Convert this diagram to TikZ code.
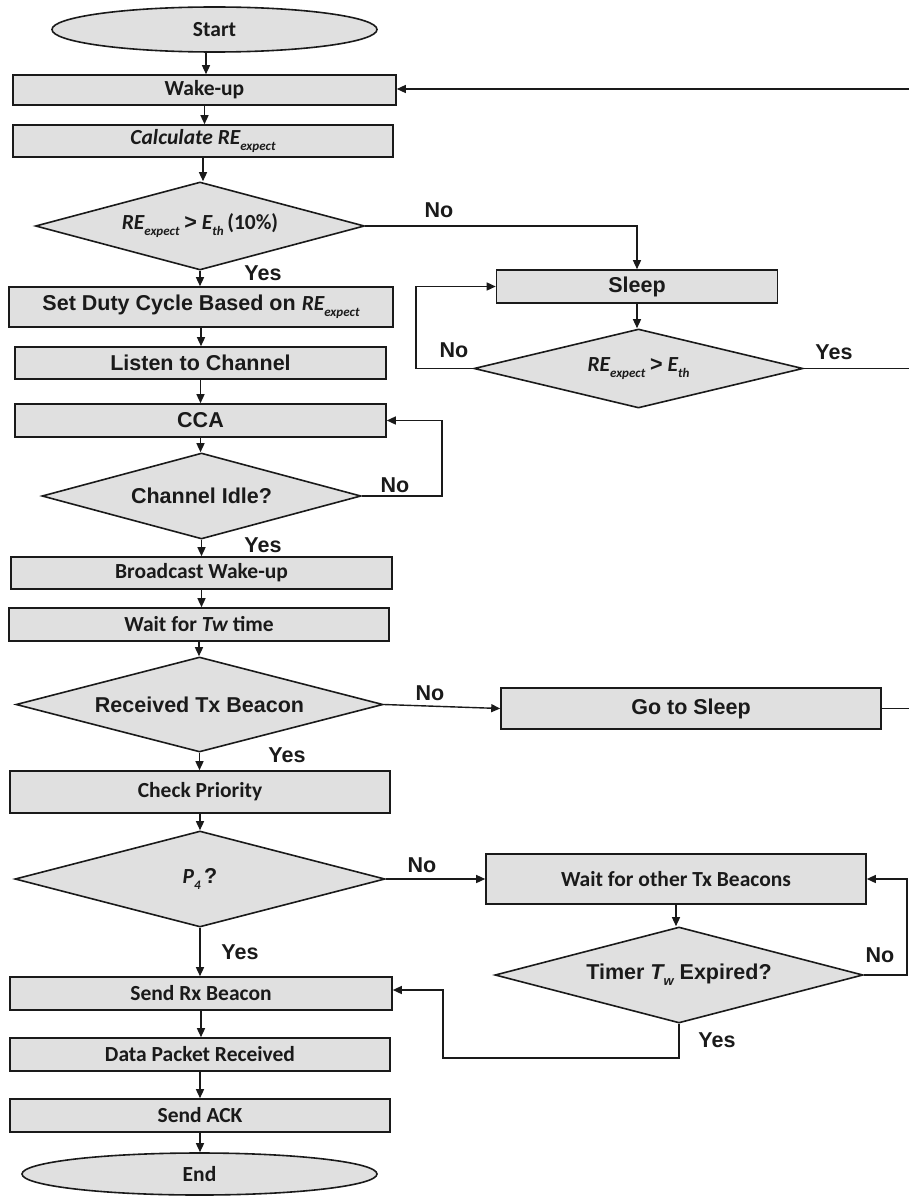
\documentclass[tikz,border=0pt]{standalone}
\usepackage{fontspec}
\setmainfont{Carlito}
\setsansfont{Liberation Sans}
\usetikzlibrary{shapes.geometric,arrows.meta}
\definecolor{boxfill}{HTML}{E0E0E0}
\definecolor{ink}{HTML}{1A1A1A}
% lowered small text used for subscripts such as RE_expect
\newcommand\lowtxt[1]{\raisebox{-0.28em}{\fontsize{13}{13}\selectfont #1}}

\begin{document}
\begin{tikzpicture}[x=1pt,y=-1pt,
  every node/.style={text=ink, inner sep=0pt, font=\fontsize{21.5}{24}\selectfont\bfseries},
  arial/.style={font=\fontsize{21.5}{24}\selectfont\sffamily\bfseries},
  procbox/.style={draw=ink, fill=boxfill, line width=1.6pt, rectangle},
  termnode/.style={draw=ink, fill=boxfill, line width=1.6pt, ellipse},
  decision/.style={draw=ink, fill=boxfill, line width=1.6pt, diamond, aspect=3.7},
  flow/.style={draw=ink, line width=1.4pt},
  arr/.style={flow, -{Triangle[length=9pt,width=8pt]}}
]
\fill[white] (0,0) rectangle (909,1196);
\useasboundingbox (0,0) rectangle (909,1196);

% ---------- main column ----------
\node[termnode, minimum width=325, minimum height=45] (start) at (214.5,29.5) {Start};
\node[procbox, minimum width=383, minimum height=30] (wake) at (204.5,90) {Wake-up};
\node[procbox, minimum width=380, minimum height=32] (calc) at (203,141) {\itshape Calculate RE\lowtxt{expect}};
\node[decision, minimum width=329, minimum height=88] (d1) at (200,226)
  {{\itshape RE\lowtxt{expect}} {\sffamily >} {\itshape E\lowtxt{th}}\,(10\%)};
\node[procbox, arial, minimum width=384, minimum height=40] (duty) at (201,307)
  {Set Duty Cycle Based on {\rmfamily\itshape RE\lowtxt{expect}}};
\node[procbox, arial, minimum width=371, minimum height=32] (listen) at (200.5,363) {Listen to Channel};
\node[procbox, arial, minimum width=371, minimum height=33] (cca) at (200.5,420.5) {CCA};
\node[decision, arial, minimum width=319, minimum height=86] (idle) at (201.5,496) {Channel Idle?};
\node[procbox, minimum width=381, minimum height=32] (bcast) at (201.5,573) {Broadcast Wake-up};
\node[procbox, minimum width=380, minimum height=33] (waittw) at (199,624.5) {Wait for {\itshape Tw} time};
\node[decision, arial, minimum width=367, minimum height=95] (rxtx) at (199.5,704.5) {Received Tx Beacon};
\node[procbox, minimum width=380, minimum height=42] (check) at (200,792) {Check Priority};
\node[decision, minimum width=370, minimum height=96] (p4) at (200,879)
  {{\itshape P\lowtxt{4}}\,{\sffamily ?}};
\node[procbox, minimum width=382, minimum height=33] (sendrx) at (201,993.5) {Send Rx Beacon};
\node[procbox, minimum width=380, minimum height=33] (data) at (200,1054.5) {Data Packet Received};
\node[procbox, minimum width=380, minimum height=33] (ack) at (200,1115.5) {Send ACK};
\node[termnode, minimum width=355, minimum height=42] (end) at (199.5,1174) {End};

% ---------- right column ----------
\node[procbox, arial, minimum width=281, minimum height=33] (sleep) at (637,286.5) {Sleep};
\node[decision, minimum width=329, minimum height=79] (d2) at (638.5,368.5)
  {{\itshape RE\lowtxt{expect}} {\sffamily >} {\itshape E\lowtxt{th}}};
\node[procbox, arial, minimum width=380, minimum height=41] (gosleep) at (691,708.5) {Go to Sleep};
\node[procbox, minimum width=380, minimum height=50] (waitother) at (676,879) {Wait for other Tx Beacons};
\node[decision, arial, minimum width=368, minimum height=96] (timer) at (679,975)
  {Timer {\itshape T\lowtxt{w}} Expired?};

% free ends on the right border (return path to Wake-up)
\coordinate (retTop) at (909,89);
\coordinate (retMid) at (909,368.5);
\coordinate (retLow) at (909,708.5);
\coordinate (startFoot) at (206,51);

% ---------- main column connectors ----------
\draw[arr] (startFoot) -- (startFoot |- wake.north);
\draw[arr] (wake.south) -- (wake.south |- calc.north);
\draw[arr] (calc.south) -- (calc.south |- d1.north);
\draw[arr] (d1.south) -- (d1.south |- duty.north);
\draw[arr] (duty.south) -- (duty.south |- listen.north);
\draw[arr] (listen.south) -- (listen.south |- cca.north);
\draw[arr] (cca.south) -- (cca.south |- idle.north);
\draw[arr] (idle.south) -- (idle.south |- bcast.north);
\draw[arr] (bcast.south) -- (bcast.south |- waittw.north);
\draw[arr] (waittw.south) -- (waittw.south |- rxtx.north);
\draw[arr] (rxtx.south) -- (rxtx.south |- check.north);
\draw[arr] (check.south) -- (check.south |- p4.north);
\draw[arr] (p4.south) -- (p4.south |- sendrx.north);
\draw[arr] (sendrx.south) -- (sendrx.south |- data.north);
\draw[arr] (data.south) -- (data.south |- ack.north);
\draw[arr] (ack.south) -- (ack.south |- end.north);

% ---------- branches and loops ----------
\draw[arr] (d1.east) -| (sleep.north);
\draw[arr] (sleep.south) -- (sleep.south |- d2.north);
\draw[arr] (d2.west) -- (416,368.5) |- (sleep.west);
\draw[flow] (d2.east) -- (retMid);
\draw[arr] (retTop) -- (wake.east |- retTop);
\draw[arr] (idle.east) -- (442,496) |- (cca.east);
\draw[arr] (rxtx.east) -- (gosleep.west);
\draw[flow] (gosleep.east) -- (retLow);
\draw[arr] (p4.east) -- (waitother.west |- p4.east);
\draw[arr] (waitother.south) -- (waitother.south |- timer.north);
\draw[arr] (timer.east) -- (907,975) |- (waitother.east);
\draw[arr] (timer.south) -- (679,1058) -- (443,1058) |- (sendrx.east |- 0,990);

% ---------- branch labels ----------
\node[arial] (yes1) at (263,273) {Yes};
\node[arial] (no1) at (439,210) {No};
\node[arial] (no2) at (454,350) {No};
\node[arial] (yes2) at (834,352) {Yes};
\node[arial] (no3) at (395,485) {No};
\node[arial] (yes3) at (263,545) {Yes};
\node[arial] (no4) at (430,693) {No};
\node[arial] (yes4) at (287,755) {Yes};
\node[arial] (no5) at (422,865) {No};
\node[arial] (yes5) at (240,952) {Yes};
\node[arial] (no6) at (880,955) {No};
\node[arial] (yes6) at (717,1040) {Yes};
\end{tikzpicture}
\end{document}
